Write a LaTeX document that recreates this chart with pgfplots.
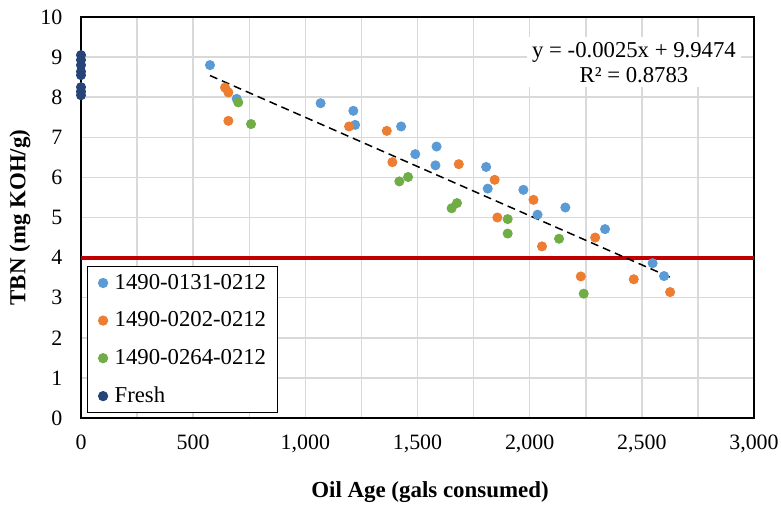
\documentclass[border=0pt]{standalone}
\usepackage{pgfplots}
\pgfplotsset{compat=1.18}
\usepackage{fontspec}
\setmainfont{Liberation Serif}
\definecolor{sblue}{HTML}{5B9BD5}
\definecolor{sorange}{HTML}{ED7D31}
\definecolor{sgreen}{HTML}{70AD47}
\definecolor{sfresh}{HTML}{264478}
\definecolor{sred}{HTML}{C00000}
\definecolor{gridc}{HTML}{D9D9D9}
\begin{document}
\begin{tikzpicture}
\useasboundingbox (-40.5bp,-44bp) rectangle (350bp,209bp);
\begin{axis}[
 scale only axis, width=336.5bp, height=200.5bp,
 xmin=0, xmax=3000, ymin=0, ymax=10,
 xtick={0,500,...,3000}, minor x tick num=1,
 ytick={0,1,...,10},
 grid=both,
 major grid style={gridc, line width=0.75bp},
 minor grid style={gridc, line width=0.75bp},
 major tick length=0pt, minor tick length=0pt,
 axis line style={black, line width=1bp},
 /pgf/number format/assume math mode=true,
 /pgf/number format/1000 sep={,},
 scaled x ticks=false,
 tick label style={font=\fontsize{11}{13}\selectfont},
 yticklabel style={xshift=-5.8bp},
 xticklabel style={yshift=-4.8bp},
 xlabel={Oil Age (gals consumed)},
 ylabel={TBN (mg KOH/g)},
 label style={font=\fontsize{11.5}{13}\selectfont\bfseries},
 xlabel style={at={(axis description cs:0.5186,-0.1845)}, anchor=center},
 ylabel style={at={(axis description cs:-0.0906,0.5)}, anchor=center},
 clip=false,
 legend style={at={(axis description cs:0.0089,0.0125)}, anchor=south west,
   draw=black, line width=0.5bp, font=\fontsize{11.4}{13}\selectfont,
   row sep=9.75bp, column sep=3.5bp, inner xsep=5.5bp, inner ysep=3.5bp,
   nodes={inner sep=0pt}},
 legend cell align=left,
 legend image code/.code={\draw[#1] plot coordinates {(0bp,0bp)};},
 mark size=2.3bp,
]
\addplot[sred, line width=2bp, forget plot] coordinates {(0,4) (3000,4)};
\addplot[only marks, mark=*, color=sblue] coordinates {
(575,8.80)(694,7.96)(1068,7.85)(1214,7.66)(1222,7.31)(1427,7.27)(1490,6.58)
(1585,6.77)(1580,6.30)(1806,6.26)(1813,5.72)(1972,5.69)(2035,5.07)(2159,5.25)
(2336,4.71)(2548,3.86)(2599,3.54)};
\addlegendentry{1490-0131-0212}
\addplot[only marks, mark=*, color=sorange] coordinates {
(642,8.24)(657,8.12)(657,7.41)(1195,7.27)(1363,7.16)(1388,6.38)(1684,6.33)
(1844,5.94)(1856,5.00)(2017,5.44)(2055,4.28)(2292,4.50)(2228,3.53)(2464,3.46)
(2626,3.14)};
\addlegendentry{1490-0202-0212}
\addplot[only marks, mark=*, color=sgreen] coordinates {
(701,7.87)(758,7.33)(1419,5.90)(1458,6.01)(1652,5.23)(1676,5.36)(1902,4.96)
(1902,4.60)(2131,4.47)(2241,3.10)};
\addlegendentry{1490-0264-0212}
\addplot[only marks, mark=*, color=sfresh] coordinates {
(0,9.05)(0,8.93)(0,8.80)(0,8.64)(0,8.55)(0,8.25)(0,8.14)(0,8.05)};
\addlegendentry{Fresh}
\addplot[black, line width=0.75bp, dash pattern=on 4bp off 2.5bp, forget plot] coordinates {(575,8.54) (2626,3.51)};
\node[fill=white, inner xsep=2.5bp, inner ysep=2.5bp, align=center, font=\fontsize{11.4}{12.5}\selectfont] at (axis cs:2465,8.87) {y = -0.0025x + 9.9474\\R² = 0.8783};
\end{axis}
\end{tikzpicture}
\end{document}
